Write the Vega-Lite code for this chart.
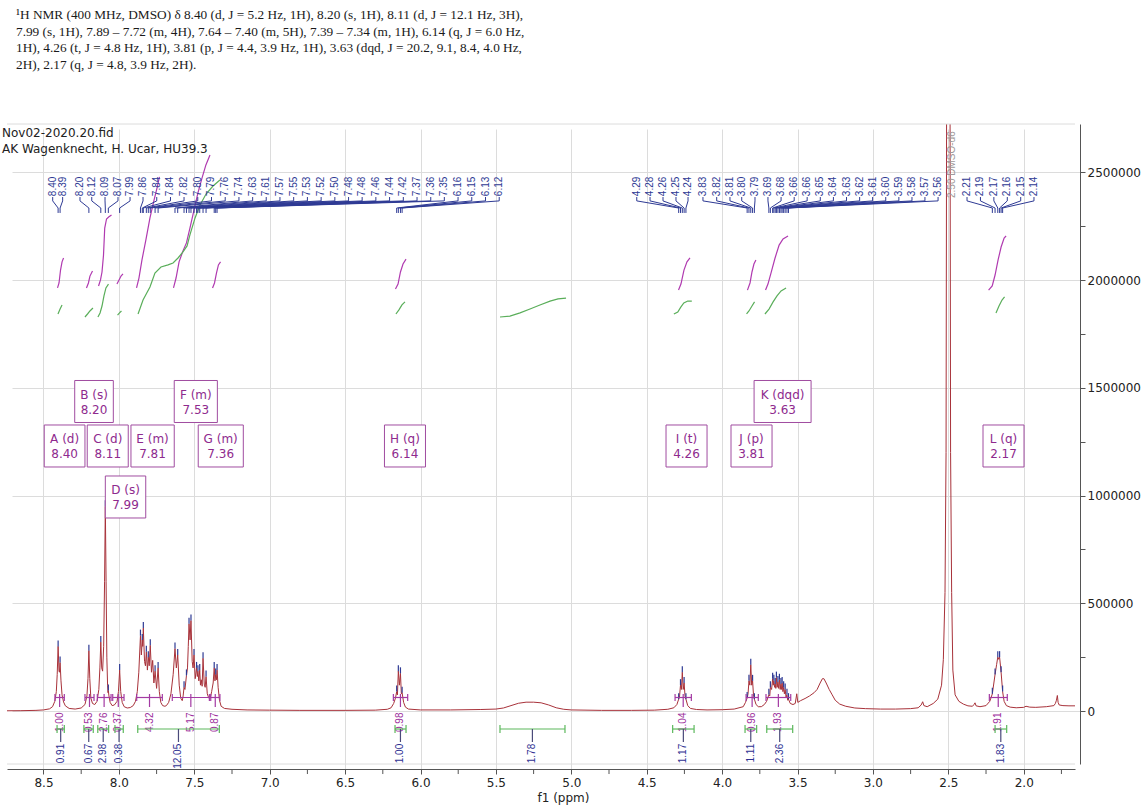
{
"$schema":"https://vega.github.io/schema/vega-lite/v6.json",
"width":1068,"height":640,
"autosize":{"type":"none"},
"padding":{"left":7,"top":124,"right":67,"bottom":43},
"background":"white",
"config":{"view":{"stroke":null},
"axisX":{"offset":5,"grid":true,"gridColor":"#dcdcdc","tickSize":5,"tickColor":"#555","domainColor":"#555","labelFont":"DejaVu Sans","labelFontSize":12,"labelColor":"#222","labelPadding":3,"labelOverlap":false,"labelFlush":false,"titleFont":"DejaVu Sans","titleFontSize":12,"titleFontWeight":"normal","titleColor":"#222","titlePadding":4},
"axisY":{"offset":5,"grid":true,"gridColor":"#dcdcdc","tickSize":5,"tickColor":"#555","domainColor":"#555","labelFont":"DejaVu Sans","labelFontSize":12,"labelColor":"#222","labelPadding":2,"labelOverlap":false,"labelFlush":false}},
"title":{"text":["¹H NMR (400 MHz, DMSO) δ 8.40 (d, J = 5.2 Hz, 1H), 8.20 (s, 1H), 8.11 (d, J = 12.1 Hz, 3H),","7.99 (s, 1H), 7.89 – 7.72 (m, 4H), 7.64 – 7.40 (m, 5H), 7.39 – 7.34 (m, 1H), 6.14 (q, J = 6.0 Hz,","1H), 4.26 (t, J = 4.8 Hz, 1H), 3.81 (p, J = 4.4, 3.9 Hz, 1H), 3.63 (dqd, J = 20.2, 9.1, 8.4, 4.0 Hz,","2H), 2.17 (q, J = 4.8, 3.9 Hz, 2H)."],"anchor":"start","frame":"group","orient":"top","offset":52,"dx":9,"font":"Liberation Serif","fontSize":13.3,"fontWeight":"normal","color":"#1a1a1a","lineHeight":16.8},
"datasets":{
"spec":[{"p":8.742,"i":1000},{"p":8.65,"i":1500},{"p":8.55,"i":3000},{"p":8.5,"i":5000},{"p":8.46,"i":10000},{"p":8.44,"i":20000},{"p":8.425,"i":45000},{"p":8.415,"i":90000},{"p":8.409,"i":170000},{"p":8.403,"i":300000},{"p":8.397,"i":185000},{"p":8.394,"i":180000},{"p":8.39,"i":225000},{"p":8.384,"i":140000},{"p":8.377,"i":75000},{"p":8.367,"i":42000},{"p":8.355,"i":24000},{"p":8.33,"i":12000},{"p":8.29,"i":9000},{"p":8.25,"i":14000},{"p":8.225,"i":30000},{"p":8.212,"i":70000},{"p":8.205,"i":150000},{"p":8.199,"i":280000},{"p":8.193,"i":150000},{"p":8.186,"i":60000},{"p":8.175,"i":35000},{"p":8.16,"i":30000},{"p":8.145,"i":45000},{"p":8.133,"i":100000},{"p":8.126,"i":200000},{"p":8.12,"i":320000},{"p":8.114,"i":200000},{"p":8.108,"i":185000},{"p":8.101,"i":300000},{"p":8.095,"i":600000},{"p":8.09,"i":950000},{"p":8.085,"i":600000},{"p":8.08,"i":250000},{"p":8.075,"i":120000},{"p":8.072,"i":85000},{"p":8.07,"i":95000},{"p":8.066,"i":70000},{"p":8.058,"i":40000},{"p":8.045,"i":25000},{"p":8.03,"i":28000},{"p":8.012,"i":45000},{"p":8.003,"i":90000},{"p":7.995,"i":190000},{"p":7.988,"i":90000},{"p":7.978,"i":40000},{"p":7.965,"i":20000},{"p":7.945,"i":14000},{"p":7.925,"i":16000},{"p":7.905,"i":25000},{"p":7.89,"i":45000},{"p":7.878,"i":90000},{"p":7.868,"i":180000},{"p":7.857,"i":350000},{"p":7.851,"i":260000},{"p":7.845,"i":330000},{"p":7.842,"i":300000},{"p":7.838,"i":385000},{"p":7.83,"i":230000},{"p":7.824,"i":210000},{"p":7.818,"i":275000},{"p":7.811,"i":190000},{"p":7.805,"i":250000},{"p":7.799,"i":210000},{"p":7.792,"i":305000},{"p":7.784,"i":180000},{"p":7.776,"i":235000},{"p":7.768,"i":130000},{"p":7.76,"i":185000},{"p":7.75,"i":105000},{"p":7.74,"i":200000},{"p":7.732,"i":90000},{"p":7.722,"i":40000},{"p":7.71,"i":25000},{"p":7.695,"i":22000},{"p":7.685,"i":25000},{"p":7.67,"i":40000},{"p":7.655,"i":80000},{"p":7.64,"i":170000},{"p":7.628,"i":290000},{"p":7.619,"i":200000},{"p":7.61,"i":260000},{"p":7.6,"i":120000},{"p":7.59,"i":60000},{"p":7.58,"i":48000},{"p":7.574,"i":70000},{"p":7.568,"i":110000},{"p":7.562,"i":100000},{"p":7.552,"i":165000},{"p":7.545,"i":200000},{"p":7.54,"i":300000},{"p":7.535,"i":405000},{"p":7.528,"i":330000},{"p":7.522,"i":420000},{"p":7.514,"i":230000},{"p":7.508,"i":200000},{"p":7.502,"i":260000},{"p":7.494,"i":150000},{"p":7.485,"i":200000},{"p":7.48,"i":160000},{"p":7.476,"i":185000},{"p":7.47,"i":140000},{"p":7.464,"i":190000},{"p":7.459,"i":120000},{"p":7.454,"i":145000},{"p":7.448,"i":115000},{"p":7.442,"i":245000},{"p":7.434,"i":125000},{"p":7.428,"i":110000},{"p":7.422,"i":160000},{"p":7.414,"i":80000},{"p":7.404,"i":60000},{"p":7.394,"i":60000},{"p":7.385,"i":90000},{"p":7.375,"i":130000},{"p":7.368,"i":200000},{"p":7.363,"i":140000},{"p":7.358,"i":170000},{"p":7.353,"i":145000},{"p":7.349,"i":190000},{"p":7.342,"i":110000},{"p":7.333,"i":50000},{"p":7.322,"i":22000},{"p":7.3,"i":12000},{"p":7.25,"i":8000},{"p":7.15,"i":5000},{"p":7.0,"i":4000},{"p":6.8,"i":3000},{"p":6.5,"i":3000},{"p":6.3,"i":4000},{"p":6.22,"i":8000},{"p":6.195,"i":15000},{"p":6.178,"i":35000},{"p":6.166,"i":60000},{"p":6.158,"i":90000},{"p":6.153,"i":75000},{"p":6.147,"i":185000},{"p":6.14,"i":120000},{"p":6.133,"i":175000},{"p":6.127,"i":80000},{"p":6.122,"i":85000},{"p":6.112,"i":40000},{"p":6.1,"i":18000},{"p":6.08,"i":9000},{"p":6.0,"i":5000},{"p":5.8,"i":5000},{"p":5.6,"i":7000},{"p":5.5,"i":9000},{"p":5.45,"i":14000},{"p":5.4,"i":25000},{"p":5.35,"i":36000},{"p":5.3,"i":41000},{"p":5.25,"i":41000},{"p":5.2,"i":38000},{"p":5.15,"i":28000},{"p":5.1,"i":15000},{"p":5.05,"i":8000},{"p":5.0,"i":5000},{"p":4.8,"i":3000},{"p":4.6,"i":3000},{"p":4.45,"i":4000},{"p":4.36,"i":8000},{"p":4.32,"i":15000},{"p":4.3,"i":30000},{"p":4.288,"i":55000},{"p":4.282,"i":70000},{"p":4.276,"i":120000},{"p":4.27,"i":100000},{"p":4.264,"i":180000},{"p":4.258,"i":100000},{"p":4.252,"i":130000},{"p":4.246,"i":70000},{"p":4.24,"i":55000},{"p":4.228,"i":25000},{"p":4.21,"i":12000},{"p":4.17,"i":7000},{"p":4.1,"i":5000},{"p":4.0,"i":6000},{"p":3.92,"i":9000},{"p":3.86,"i":20000},{"p":3.845,"i":40000},{"p":3.834,"i":60000},{"p":3.828,"i":80000},{"p":3.822,"i":140000},{"p":3.816,"i":120000},{"p":3.81,"i":215000},{"p":3.804,"i":120000},{"p":3.798,"i":140000},{"p":3.792,"i":75000},{"p":3.786,"i":55000},{"p":3.775,"i":30000},{"p":3.76,"i":20000},{"p":3.74,"i":20000},{"p":3.72,"i":30000},{"p":3.705,"i":45000},{"p":3.69,"i":75000},{"p":3.684,"i":70000},{"p":3.68,"i":110000},{"p":3.672,"i":100000},{"p":3.665,"i":150000},{"p":3.661,"i":120000},{"p":3.657,"i":140000},{"p":3.652,"i":110000},{"p":3.648,"i":125000},{"p":3.644,"i":105000},{"p":3.64,"i":155000},{"p":3.635,"i":110000},{"p":3.63,"i":135000},{"p":3.625,"i":105000},{"p":3.62,"i":145000},{"p":3.615,"i":100000},{"p":3.61,"i":125000},{"p":3.606,"i":100000},{"p":3.602,"i":130000},{"p":3.597,"i":90000},{"p":3.592,"i":110000},{"p":3.587,"i":80000},{"p":3.582,"i":100000},{"p":3.576,"i":65000},{"p":3.57,"i":75000},{"p":3.565,"i":50000},{"p":3.56,"i":55000},{"p":3.548,"i":35000},{"p":3.53,"i":30000},{"p":3.515,"i":35000},{"p":3.505,"i":80000},{"p":3.498,"i":40000},{"p":3.48,"i":48000},{"p":3.45,"i":58000},{"p":3.42,"i":70000},{"p":3.39,"i":85000},{"p":3.37,"i":100000},{"p":3.35,"i":130000},{"p":3.335,"i":150000},{"p":3.325,"i":150000},{"p":3.31,"i":130000},{"p":3.29,"i":100000},{"p":3.27,"i":75000},{"p":3.25,"i":50000},{"p":3.22,"i":32000},{"p":3.18,"i":22000},{"p":3.12,"i":14000},{"p":3.05,"i":11000},{"p":2.95,"i":9000},{"p":2.85,"i":9000},{"p":2.75,"i":11000},{"p":2.7,"i":15000},{"p":2.68,"i":28000},{"p":2.67,"i":43000},{"p":2.662,"i":25000},{"p":2.64,"i":20000},{"p":2.6,"i":35000},{"p":2.57,"i":55000},{"p":2.545,"i":120000},{"p":2.533,"i":240000},{"p":2.522,"i":550000},{"p":2.515,"i":1200000},{"p":2.51,"i":3500000},{"p":2.5,"i":30000000},{"p":2.49,"i":3500000},{"p":2.485,"i":1200000},{"p":2.478,"i":550000},{"p":2.47,"i":190000},{"p":2.455,"i":75000},{"p":2.43,"i":45000},{"p":2.4,"i":32000},{"p":2.37,"i":24000},{"p":2.34,"i":22000},{"p":2.33,"i":30000},{"p":2.323,"i":38000},{"p":2.316,"i":24000},{"p":2.29,"i":20000},{"p":2.25,"i":25000},{"p":2.225,"i":45000},{"p":2.208,"i":80000},{"p":2.19,"i":170000},{"p":2.18,"i":215000},{"p":2.172,"i":250000},{"p":2.166,"i":240000},{"p":2.16,"i":250000},{"p":2.15,"i":180000},{"p":2.14,"i":90000},{"p":2.13,"i":45000},{"p":2.115,"i":25000},{"p":2.09,"i":18000},{"p":2.05,"i":15000},{"p":2.0,"i":17000},{"p":1.985,"i":22000},{"p":1.96,"i":18000},{"p":1.92,"i":17000},{"p":1.85,"i":20000},{"p":1.8,"i":25000},{"p":1.79,"i":35000},{"p":1.783,"i":50000},{"p":1.777,"i":72000},{"p":1.772,"i":40000},{"p":1.765,"i":28000},{"p":1.74,"i":25000},{"p":1.7,"i":24000},{"p":1.66,"i":24000}],
"pk":[{"t":"8.40","p":8.403,"h":300000,"q":8.439},{"t":"8.39","p":8.39,"h":225000,"q":8.373},{"t":"8.20","p":8.199,"h":280000,"q":8.258},{"t":"8.12","p":8.12,"h":320000,"q":8.18},{"t":"8.09","p":8.09,"h":950000,"q":8.092},{"t":"8.07","p":8.07,"h":95000,"q":8.006},{"t":"7.99","p":7.995,"h":190000,"q":7.926},{"t":"7.86","p":7.857,"h":350000,"q":7.84},{"t":"7.84","p":7.845,"h":330000,"q":7.749},{"t":"7.84","p":7.838,"h":385000,"q":7.658},{"t":"7.82","p":7.818,"h":275000,"q":7.568},{"t":"7.80","p":7.805,"h":250000,"q":7.477},{"t":"7.79","p":7.792,"h":305000,"q":7.386},{"t":"7.76","p":7.76,"h":185000,"q":7.295},{"t":"7.74","p":7.74,"h":200000,"q":7.204},{"t":"7.63","p":7.628,"h":290000,"q":7.113},{"t":"7.61","p":7.61,"h":260000,"q":7.023},{"t":"7.57","p":7.568,"h":110000,"q":6.932},{"t":"7.55","p":7.552,"h":165000,"q":6.841},{"t":"7.53","p":7.535,"h":405000,"q":6.75},{"t":"7.52","p":7.522,"h":420000,"q":6.659},{"t":"7.50","p":7.502,"h":260000,"q":6.568},{"t":"7.48","p":7.485,"h":200000,"q":6.477},{"t":"7.48","p":7.476,"h":185000,"q":6.387},{"t":"7.46","p":7.464,"h":190000,"q":6.296},{"t":"7.44","p":7.442,"h":245000,"q":6.205},{"t":"7.42","p":7.422,"h":160000,"q":6.114},{"t":"7.37","p":7.368,"h":200000,"q":6.023},{"t":"7.36","p":7.358,"h":170000,"q":5.932},{"t":"7.35","p":7.349,"h":190000,"q":5.842},{"t":"6.16","p":6.158,"h":90000,"q":5.751},{"t":"6.15","p":6.147,"h":185000,"q":5.66},{"t":"6.13","p":6.133,"h":175000,"q":5.569},{"t":"6.12","p":6.122,"h":85000,"q":5.478},{"t":"4.29","p":4.288,"h":55000,"q":4.566},{"t":"4.28","p":4.276,"h":120000,"q":4.478},{"t":"4.26","p":4.264,"h":180000,"q":4.392},{"t":"4.25","p":4.252,"h":130000,"q":4.306},{"t":"4.24","p":4.24,"h":55000,"q":4.226},{"t":"3.83","p":3.834,"h":60000,"q":4.127},{"t":"3.82","p":3.822,"h":140000,"q":4.036},{"t":"3.81","p":3.81,"h":215000,"q":3.948},{"t":"3.80","p":3.798,"h":140000,"q":3.87},{"t":"3.79","p":3.786,"h":55000,"q":3.782},{"t":"3.69","p":3.69,"h":75000,"q":3.696},{"t":"3.68","p":3.68,"h":110000,"q":3.609},{"t":"3.66","p":3.665,"h":150000,"q":3.522},{"t":"3.66","p":3.657,"h":140000,"q":3.436},{"t":"3.65","p":3.648,"h":125000,"q":3.349},{"t":"3.64","p":3.64,"h":155000,"q":3.262},{"t":"3.63","p":3.63,"h":135000,"q":3.175},{"t":"3.62","p":3.62,"h":145000,"q":3.088},{"t":"3.61","p":3.61,"h":125000,"q":3.002},{"t":"3.60","p":3.602,"h":130000,"q":2.915},{"t":"3.59","p":3.592,"h":110000,"q":2.828},{"t":"3.58","p":3.582,"h":100000,"q":2.741},{"t":"3.57","p":3.57,"h":75000,"q":2.655},{"t":"3.56","p":3.56,"h":55000,"q":2.568},{"t":"2.21","p":2.208,"h":80000,"q":2.376},{"t":"2.19","p":2.19,"h":170000,"q":2.287},{"t":"2.17","p":2.172,"h":250000,"q":2.198},{"t":"2.16","p":2.16,"h":250000,"q":2.109},{"t":"2.15","p":2.15,"h":180000,"q":2.02},{"t":"2.14","p":2.14,"h":90000,"q":1.932}],
"ic":[{"id":"pA","k":"p","p":8.407,"i":1964000},{"id":"pA","k":"p","p":8.397,"i":1987000},{"id":"pA","k":"p","p":8.387,"i":2047000},{"id":"pA","k":"p","p":8.377,"i":2085000},{"id":"pA","k":"p","p":8.367,"i":2103000},
{"id":"pB","k":"p","p":8.215,"i":1964000},{"id":"pB","k":"p","p":8.202,"i":1987000},{"id":"pB","k":"p","p":8.192,"i":2019000},{"id":"pB","k":"p","p":8.175,"i":2043000},
{"id":"pC","k":"p","p":8.135,"i":1973000},{"id":"pC","k":"p","p":8.122,"i":2001000},{"id":"pC","k":"p","p":8.112,"i":2038000},{"id":"pC","k":"p","p":8.102,"i":2117000},{"id":"pC","k":"p","p":8.094,"i":2242000},{"id":"pC","k":"p","p":8.082,"i":2284000},{"id":"pC","k":"p","p":8.068,"i":2293000},{"id":"pC","k":"p","p":8.049,"i":2303000},
{"id":"pD","k":"p","p":8.013,"i":1982000},{"id":"pD","k":"p","p":7.999,"i":2001000},{"id":"pD","k":"p","p":7.986,"i":2019000},{"id":"pD","k":"p","p":7.973,"i":2029000},
{"id":"pE","k":"p","p":7.883,"i":1964000},{"id":"pE","k":"p","p":7.867,"i":2010000},{"id":"pE","k":"p","p":7.847,"i":2094000},{"id":"pE","k":"p","p":7.821,"i":2187000},{"id":"pE","k":"p","p":7.794,"i":2289000},{"id":"pE","k":"p","p":7.767,"i":2372000},{"id":"pE","k":"p","p":7.747,"i":2428000},{"id":"pE","k":"p","p":7.731,"i":2479000},
{"id":"pF","k":"p","p":7.638,"i":1964000},{"id":"pF","k":"p","p":7.621,"i":2010000},{"id":"pF","k":"p","p":7.601,"i":2085000},{"id":"pF","k":"p","p":7.575,"i":2136000},{"id":"pF","k":"p","p":7.552,"i":2173000},{"id":"pF","k":"p","p":7.529,"i":2242000},{"id":"pF","k":"p","p":7.502,"i":2325000},{"id":"pF","k":"p","p":7.476,"i":2405000},{"id":"pF","k":"p","p":7.449,"i":2474000},{"id":"pF","k":"p","p":7.423,"i":2535000},{"id":"pF","k":"p","p":7.396,"i":2581000},
{"id":"pG","k":"p","p":7.379,"i":1964000},{"id":"pG","k":"p","p":7.366,"i":1987000},{"id":"pG","k":"p","p":7.353,"i":2033000},{"id":"pG","k":"p","p":7.34,"i":2071000},{"id":"pG","k":"p","p":7.326,"i":2085000},
{"id":"pH","k":"p","p":6.166,"i":1959000},{"id":"pH","k":"p","p":6.149,"i":1982000},{"id":"pH","k":"p","p":6.133,"i":2038000},{"id":"pH","k":"p","p":6.116,"i":2075000},{"id":"pH","k":"p","p":6.096,"i":2098000},
{"id":"pI","k":"p","p":4.289,"i":1954000},{"id":"pI","k":"p","p":4.273,"i":1982000},{"id":"pI","k":"p","p":4.253,"i":2047000},{"id":"pI","k":"p","p":4.233,"i":2085000},{"id":"pI","k":"p","p":4.213,"i":2103000},
{"id":"pJ","k":"p","p":3.832,"i":1954000},{"id":"pJ","k":"p","p":3.815,"i":1987000},{"id":"pJ","k":"p","p":3.802,"i":2038000},{"id":"pJ","k":"p","p":3.789,"i":2075000},{"id":"pJ","k":"p","p":3.776,"i":2094000},
{"id":"pK","k":"p","p":3.712,"i":1954000},{"id":"pK","k":"p","p":3.696,"i":1982000},{"id":"pK","k":"p","p":3.676,"i":2033000},{"id":"pK","k":"p","p":3.649,"i":2103000},{"id":"pK","k":"p","p":3.622,"i":2163000},{"id":"pK","k":"p","p":3.596,"i":2191000},{"id":"pK","k":"p","p":3.563,"i":2205000},
{"id":"pL","k":"p","p":2.233,"i":1954000},{"id":"pL","k":"p","p":2.209,"i":1973000},{"id":"pL","k":"p","p":2.19,"i":2024000},{"id":"pL","k":"p","p":2.17,"i":2094000},{"id":"pL","k":"p","p":2.15,"i":2154000},{"id":"pL","k":"p","p":2.13,"i":2196000},{"id":"pL","k":"p","p":2.117,"i":2205000},
{"id":"gA","k":"g","p":8.404,"i":1843000},{"id":"gA","k":"g","p":8.39,"i":1866000},{"id":"gA","k":"g","p":8.377,"i":1885000},
{"id":"gB","k":"g","p":8.225,"i":1829000},{"id":"gB","k":"g","p":8.208,"i":1843000},{"id":"gB","k":"g","p":8.192,"i":1857000},{"id":"gB","k":"g","p":8.172,"i":1871000},
{"id":"gC","k":"g","p":8.139,"i":1829000},{"id":"gC","k":"g","p":8.125,"i":1848000},{"id":"gC","k":"g","p":8.112,"i":1880000},{"id":"gC","k":"g","p":8.099,"i":1927000},{"id":"gC","k":"g","p":8.086,"i":1964000},{"id":"gC","k":"g","p":8.069,"i":1982000},
{"id":"gD","k":"g","p":8.009,"i":1838000},{"id":"gD","k":"g","p":7.996,"i":1848000},{"id":"gD","k":"g","p":7.983,"i":1857000},
{"id":"gE","k":"g","p":7.873,"i":1843000},{"id":"gE","k":"g","p":7.84,"i":1908000},{"id":"gE","k":"g","p":7.794,"i":1968000},{"id":"gE","k":"g","p":7.761,"i":2033000},{"id":"gE","k":"g","p":7.721,"i":2061000},{"id":"gE","k":"g","p":7.674,"i":2071000},{"id":"gE","k":"g","p":7.641,"i":2080000},{"id":"gE","k":"g","p":7.608,"i":2103000},{"id":"gE","k":"g","p":7.575,"i":2131000},{"id":"gE","k":"g","p":7.548,"i":2159000},{"id":"gE","k":"g","p":7.529,"i":2210000},{"id":"gE","k":"g","p":7.495,"i":2289000},{"id":"gE","k":"g","p":7.462,"i":2349000},{"id":"gE","k":"g","p":7.422,"i":2400000},{"id":"gE","k":"g","p":7.376,"i":2437000},{"id":"gE","k":"g","p":7.33,"i":2465000},
{"id":"gH","k":"g","p":6.163,"i":1843000},{"id":"gH","k":"g","p":6.143,"i":1862000},{"id":"gH","k":"g","p":6.123,"i":1885000},{"id":"gH","k":"g","p":6.103,"i":1899000},
{"id":"gX","k":"g","p":5.473,"i":1829000},{"id":"gX","k":"g","p":5.407,"i":1833000},{"id":"gX","k":"g","p":5.34,"i":1848000},{"id":"gX","k":"g","p":5.274,"i":1866000},{"id":"gX","k":"g","p":5.208,"i":1885000},{"id":"gX","k":"g","p":5.141,"i":1903000},{"id":"gX","k":"g","p":5.088,"i":1913000},{"id":"gX","k":"g","p":5.035,"i":1917000},
{"id":"gI","k":"g","p":4.32,"i":1843000},{"id":"gI","k":"g","p":4.294,"i":1852000},{"id":"gI","k":"g","p":4.274,"i":1875000},{"id":"gI","k":"g","p":4.254,"i":1894000},{"id":"gI","k":"g","p":4.228,"i":1903000},{"id":"gI","k":"g","p":4.201,"i":1903000},
{"id":"gJ","k":"g","p":3.838,"i":1843000},{"id":"gJ","k":"g","p":3.822,"i":1857000},{"id":"gJ","k":"g","p":3.802,"i":1880000},{"id":"gJ","k":"g","p":3.785,"i":1899000},
{"id":"gK","k":"g","p":3.716,"i":1843000},{"id":"gK","k":"g","p":3.689,"i":1866000},{"id":"gK","k":"g","p":3.662,"i":1899000},{"id":"gK","k":"g","p":3.636,"i":1927000},{"id":"gK","k":"g","p":3.609,"i":1950000},{"id":"gK","k":"g","p":3.576,"i":1964000},
{"id":"gL","k":"g","p":2.184,"i":1848000},{"id":"gL","k":"g","p":2.164,"i":1880000},{"id":"gL","k":"g","p":2.144,"i":1908000},{"id":"gL","k":"g","p":2.127,"i":1922000}],
"ip":[{"a":8.424,"b":8.362,"c":8.393,"t":"1.00"},{"a":8.225,"b":8.165,"c":8.195,"t":"0.53"},{"a":8.143,"b":8.052,"c":8.098,"t":"2.76"},{"a":8.041,"b":7.966,"c":8.004,"t":"0.37"},{"a":7.882,"b":7.712,"c":7.797,"t":"4.32"},{"a":7.646,"b":7.4,"c":7.523,"t":"5.17"},{"a":7.391,"b":7.33,"c":7.361,"t":"0.87"},{"a":6.18,"b":6.085,"c":6.133,"t":"0.98"},{"a":4.312,"b":4.204,"c":4.258,"t":"1.04"},{"a":3.841,"b":3.76,"c":3.801,"t":"0.96"},{"a":3.709,"b":3.545,"c":3.627,"t":"1.93"},{"a":2.228,"b":2.109,"c":2.169,"t":"1.91"}],
"iv":[{"a":8.41,"b":8.362,"c":8.386,"t":"0.91"},{"a":8.232,"b":8.17,"c":8.2,"t":"0.67"},{"a":8.14,"b":8.068,"c":8.104,"t":"2.98"},{"a":8.026,"b":7.971,"c":7.999,"t":"0.38"},{"a":7.875,"b":7.334,"c":7.605,"t":"12.05"},{"a":6.169,"b":6.096,"c":6.133,"t":"1.00"},{"a":5.473,"b":5.042,"c":5.258,"t":"1.78"},{"a":4.328,"b":4.186,"c":4.257,"t":"1.17"},{"a":3.848,"b":3.771,"c":3.81,"t":"1.11"},{"a":3.704,"b":3.532,"c":3.618,"t":"2.36"},{"a":2.19,"b":2.113,"c":2.152,"t":"1.83"}],
"bx":[{"n":"A (d)","v":"8.40","l":8.495,"r":8.225,"c":8.36,"t":1327755,"b":1132770,"y1":1262760,"y2":1193123},{"n":"B (s)","v":"8.20","l":8.293,"r":8.037,"c":8.165,"t":1534346,"b":1339361,"y1":1467030,"y2":1397393},{"n":"C (d)","v":"8.11","l":8.21,"r":7.938,"c":8.074,"t":1327755,"b":1132770,"y1":1262760,"y2":1193123},{"n":"D (s)","v":"7.99","l":8.09,"r":7.822,"c":7.956,"t":1090988,"b":896003,"y1":1025993,"y2":956355},{"n":"E (m)","v":"7.81","l":7.92,"r":7.633,"c":7.777,"t":1327755,"b":1132770,"y1":1262760,"y2":1193123},{"n":"F (m)","v":"7.53","l":7.633,"r":7.347,"c":7.49,"t":1534346,"b":1339361,"y1":1467030,"y2":1397393},{"n":"G (m)","v":"7.36","l":7.474,"r":7.175,"c":7.325,"t":1327755,"b":1132770,"y1":1262760,"y2":1193123},{"n":"H (q)","v":"6.14","l":6.239,"r":5.967,"c":6.103,"t":1327755,"b":1132770,"y1":1262760,"y2":1193123},{"n":"I (t)","v":"4.26","l":4.372,"r":4.1,"c":4.236,"t":1327755,"b":1132770,"y1":1262760,"y2":1193123},{"n":"J (p)","v":"3.81","l":3.941,"r":3.669,"c":3.805,"t":1327755,"b":1132770,"y1":1262760,"y2":1193123},{"n":"K (dqd)","v":"3.63","l":3.788,"r":3.41,"c":3.599,"t":1534346,"b":1339361,"y1":1467030,"y2":1397393},{"n":"L (q)","v":"2.17","l":2.27,"r":1.998,"c":2.134,"t":1327755,"b":1132770,"y1":1262760,"y2":1193123}],
"notes":[{"p":8.775,"i":2683000,"t":"Nov02-2020.20.fid"},{"p":8.775,"i":2609000,"t":"AK Wagenknecht, H. Ucar, HU39.3"}],
"frame":[{"v":2725000},{"v":-246000}],
"minor":[{"p":1.75},{"p":2.25},{"p":2.75},{"p":3.25},{"p":3.75},{"p":4.25},{"p":4.75},{"p":5.25},{"p":5.75},{"p":6.25},{"p":6.75},{"p":7.25},{"p":7.75},{"p":8.25}],
"dmso":[{"p":2.478,"t":"2.50 DMSO-d6"}]
},
"layer":[
{"data":{"name":"spec"},"mark":{"type":"line","color":"#a8323a","strokeWidth":1,"clip":true},
"encoding":{"x":{"field":"p","type":"quantitative","scale":{"domain":[1.66,8.742],"reverse":true,"nice":false,"zero":false},
"axis":{"title":"f1 (ppm)","values":[2,2.5,3,3.5,4,4.5,5,5.5,6,6.5,7,7.5,8,8.5],"format":".1f","titleX":556,"titleAlign":"center"}},
"y":{"field":"i","type":"quantitative","scale":{"domain":[-246000,2725000],"nice":false,"zero":false},
"axis":{"title":null,"orient":"right","values":[0,250000,500000,750000,1000000,1250000,1500000,1750000,2000000,2250000,2500000],"labelExpr":"datum.value % 500000 === 0 ? format(datum.value, 'd') : ''","gridOpacity":{"condition":{"test":"datum.value % 500000 === 0","value":1},"value":0}}}}},
{"data":{"name":"minor"},"mark":{"type":"rule","color":"#555","strokeWidth":1},"encoding":{"x":{"field":"p","type":"quantitative"},"y":{"datum":-269300,"type":"quantitative"},"y2":{"datum":-292500}}},
{"data":{"name":"frame"},"mark":{"type":"rule","color":"#dcdcdc","strokeWidth":1},"encoding":{"y":{"field":"v","type":"quantitative"}}},
{"data":{"name":"ic"},"mark":{"type":"line","strokeWidth":1.2},"encoding":{"x":{"field":"p","type":"quantitative"},"y":{"field":"i","type":"quantitative"},"detail":{"field":"id"},"color":{"field":"k","type":"nominal","scale":{"domain":["p","g"],"range":["#b03ab0","#5aae5a"]},"legend":null}}},
{"data":{"name":"pk"},"mark":{"type":"rule","color":"#2e3a94","strokeWidth":1},"encoding":{"x":{"field":"q","type":"quantitative"},"y":{"datum":2386000,"type":"quantitative"},"y2":{"datum":2368000}}},
{"data":{"name":"pk"},"mark":{"type":"rule","color":"#2e3a94","strokeWidth":1},"encoding":{"x":{"field":"q","type":"quantitative"},"x2":{"field":"p"},"y":{"datum":2368000,"type":"quantitative"},"y2":{"datum":2335000}}},
{"data":{"name":"pk"},"mark":{"type":"rule","color":"#2e3a94","strokeWidth":1},"encoding":{"x":{"field":"p","type":"quantitative"},"y":{"datum":2335000,"type":"quantitative"},"y2":{"datum":2312000}}},
{"data":{"name":"pk"},"mark":{"type":"text","angle":270,"align":"left","baseline":"middle","font":"Liberation Sans","fontSize":10,"color":"#2e3a94"},"encoding":{"x":{"field":"q","type":"quantitative"},"y":{"datum":2390000,"type":"quantitative"},"text":{"field":"t"}}},
{"data":{"name":"pk"},"mark":{"type":"point","shape":"M0,-1L0,1","size":36,"filled":false,"stroke":"#2e3a94","strokeWidth":1.2,"yOffset":-3,"opacity":1},"encoding":{"x":{"field":"p","type":"quantitative"},"y":{"field":"h","type":"quantitative"}}},
{"data":{"name":"ip"},"mark":{"type":"rule","color":"#a33aa3","strokeWidth":1.2},"encoding":{"x":{"field":"a","type":"quantitative"},"x2":{"field":"b"},"y":{"datum":62700,"type":"quantitative"}}},
{"data":{"name":"ip"},"mark":{"type":"rule","color":"#a33aa3","strokeWidth":1.2},"encoding":{"x":{"field":"a","type":"quantitative"},"y":{"datum":78900,"type":"quantitative"},"y2":{"datum":46400}}},
{"data":{"name":"ip"},"mark":{"type":"rule","color":"#a33aa3","strokeWidth":1.2},"encoding":{"x":{"field":"b","type":"quantitative"},"y":{"datum":78900,"type":"quantitative"},"y2":{"datum":46400}}},
{"data":{"name":"ip"},"mark":{"type":"rule","color":"#a33aa3","strokeWidth":1.2},"encoding":{"x":{"field":"c","type":"quantitative"},"y":{"datum":78900,"type":"quantitative"},"y2":{"datum":18600}}},
{"data":{"name":"ip"},"mark":{"type":"text","angle":270,"align":"right","baseline":"middle","font":"Liberation Sans","fontSize":10,"color":"#9c2f9c"},"encoding":{"x":{"field":"c","type":"quantitative"},"y":{"datum":-7000,"type":"quantitative"},"text":{"field":"t"}}},
{"data":{"name":"iv"},"mark":{"type":"rule","color":"#5cb85c","strokeWidth":1.2},"encoding":{"x":{"field":"a","type":"quantitative"},"x2":{"field":"b"},"y":{"datum":-83600,"type":"quantitative"}}},
{"data":{"name":"iv"},"mark":{"type":"rule","color":"#5cb85c","strokeWidth":1.2},"encoding":{"x":{"field":"a","type":"quantitative"},"y":{"datum":-65000,"type":"quantitative"},"y2":{"datum":-102000}}},
{"data":{"name":"iv"},"mark":{"type":"rule","color":"#5cb85c","strokeWidth":1.2},"encoding":{"x":{"field":"b","type":"quantitative"},"y":{"datum":-65000,"type":"quantitative"},"y2":{"datum":-102000}}},
{"data":{"name":"iv"},"mark":{"type":"rule","color":"#4a4a7a","strokeWidth":1.2},"encoding":{"x":{"field":"c","type":"quantitative"},"y":{"datum":-83600,"type":"quantitative"},"y2":{"datum":-144000}}},
{"data":{"name":"iv"},"mark":{"type":"text","angle":270,"align":"right","baseline":"middle","font":"Liberation Sans","fontSize":10,"color":"#2e3192"},"encoding":{"x":{"field":"c","type":"quantitative"},"y":{"datum":-152000,"type":"quantitative"},"text":{"field":"t"}}},
{"data":{"name":"bx"},"mark":{"type":"rect","fill":"white","stroke":"#a04ca0","strokeWidth":1},"encoding":{"x":{"field":"l","type":"quantitative"},"x2":{"field":"r"},"y":{"field":"t","type":"quantitative"},"y2":{"field":"b"}}},
{"data":{"name":"bx"},"mark":{"type":"text","align":"center","baseline":"middle","font":"DejaVu Sans","fontSize":12,"color":"#8e2a8e"},"encoding":{"x":{"field":"c","type":"quantitative"},"y":{"field":"y1","type":"quantitative"},"text":{"field":"n"}}},
{"data":{"name":"bx"},"mark":{"type":"text","align":"center","baseline":"middle","font":"DejaVu Sans","fontSize":12,"color":"#8e2a8e"},"encoding":{"x":{"field":"c","type":"quantitative"},"y":{"field":"y2","type":"quantitative"},"text":{"field":"v"}}},
{"data":{"name":"dmso"},"mark":{"type":"text","angle":270,"align":"left","baseline":"middle","font":"Liberation Sans","fontSize":10,"color":"#a09a9a"},"encoding":{"x":{"field":"p","type":"quantitative"},"y":{"datum":2381600,"type":"quantitative"},"text":{"field":"t"}}},
{"data":{"name":"notes"},"mark":{"type":"text","align":"left","baseline":"middle","font":"DejaVu Sans","fontSize":12,"color":"#222"},"encoding":{"x":{"field":"p","type":"quantitative"},"y":{"field":"i","type":"quantitative"},"text":{"field":"t"}}}
]
}
